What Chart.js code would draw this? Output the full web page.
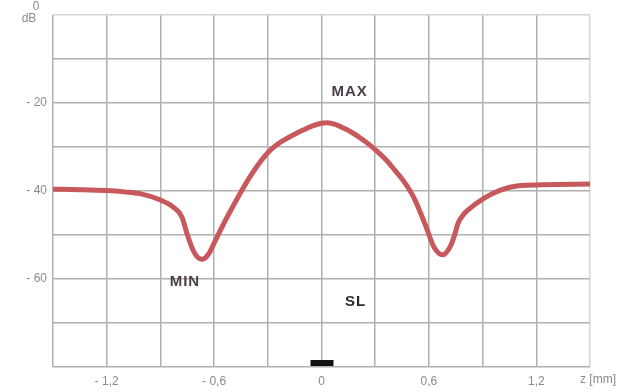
<!DOCTYPE html>
<html>
<head>
<meta charset="utf-8">
<script src="https://cdn.jsdelivr.net/npm/chart.js@4/dist/chart.umd.min.js"></script>
<style>
  html, body { margin: 0; padding: 0; background: #fff; }
  #wrap { width: 636px; height: 392px; }
</style>
</head>
<body>
<div id="wrap"><canvas id="sl-chart"></canvas></div>
<script>
// axial position z [mm] and level [dB]
const zPos = [-1.5, -1.35, -1.2, -1.1, -1.015, -0.903, -0.83, -0.78, -0.752, -0.718, -0.685, -0.665, -0.634, -0.583, -0.527, -0.454,
  -0.4, -0.35, -0.3, -0.25, -0.2, -0.15, -0.1, -0.05, 0, 0.03, 0.08, 0.123, 0.17, 0.219, 0.265, 0.314, 0.36, 0.404, 0.46, 0.516,
  0.583, 0.628, 0.677, 0.723, 0.745, 0.763, 0.79, 0.819, 0.909, 1.0, 1.1, 1.23, 1.5];
const level = [-39.6, -39.7, -39.9, -40.2, -40.6, -42, -43.6, -45.9, -49.6, -53.4, -55.3, -55.5, -54.5, -50.4, -45.9, -40.5,
  -36.8, -33.8, -31.3, -29.5, -28.2, -27.1, -26.1, -25.2, -24.6, -24.5, -24.9, -25.7, -26.7, -28, -29.4, -31.1, -32.9, -35, -37.8, -41.5,
  -48, -52.7, -54.5, -52.3, -49.8, -47.3, -45.5, -44.3, -41.6, -39.8, -38.8, -38.6, -38.4];

const xLabels = { '-1.2': '- 1,2', '-0.6': '- 0,6', '0': '0', '0.6': '0,6', '1.2': '1,2' };
const yLabels = { '-20': '- 20', '-40': '- 40', '-60': '- 60' };

// MAX / MIN / SL notes placed in data units
const notes = [
  { text: 'MAX', x: 0.157, y: -17.5, color: '#4e3e4a' },
  { text: 'MIN', x: -0.763, y: -60.7, color: '#4e3e4a' },
  { text: 'SL', x: 0.19, y: -65.2, color: '#2a2a2a' }
];

const tickFont = { size: 12, family: '"Liberation Sans", Arial, sans-serif' };

const extras = {
  id: 'extras',
  afterDatasetsDraw(chart) {
    const { ctx, scales: { x, y }, chartArea } = chart;
    ctx.save();
    ctx.font = 'bold 15px "Liberation Sans", Arial, sans-serif';
    ctx.letterSpacing = '1px';
    ctx.textAlign = 'center';
    ctx.textBaseline = 'middle';
    notes.forEach(n => {
      ctx.fillStyle = n.color;
      ctx.fillText(n.text, x.getPixelForValue(n.x), y.getPixelForValue(n.y));
    });
    ctx.letterSpacing = '0px';
    // focus marker on the axis at z = 0
    const x0 = x.getPixelForValue(0);
    ctx.fillStyle = '#111';
    ctx.fillRect(x0 - 11, chartArea.bottom - 7, 23, 6);
    // axis captions
    ctx.fillStyle = '#8a8a8a';
    ctx.font = '12px "Liberation Sans", Arial, sans-serif';
    ctx.fillText('0', 36, 7);
    ctx.fillText('dB', 29, 19);
    ctx.textAlign = 'left';
    ctx.fillText('z [mm]', 580, 380);
    ctx.restore();
  }
};

new Chart(document.getElementById('sl-chart'), {
  type: 'line',
  data: {
    datasets: [{
      data: zPos.map((z, i) => ({ x: z, y: level[i] })),
      borderColor: '#c7585c',
      borderWidth: 5,
      pointRadius: 0,
      cubicInterpolationMode: 'monotone',
      fill: false
    }]
  },
  options: {
    responsive: true,
    maintainAspectRatio: false,
    animation: false,
    layout: { padding: { top: 15, right: 46, left: 0, bottom: 0 } },
    plugins: { legend: { display: false }, tooltip: { enabled: false } },
    scales: {
      x: {
        type: 'linear',
        min: -1.5, max: 1.5,
        grid: {
          drawTicks: false,
          lineWidth: 1.5,
          color: c => (c.tick && Math.abs(c.tick.value - 1.5) < 1e-6) ? '#d6d6d6' : '#b0b0b0'
        },
        border: { display: false },
        ticks: {
          stepSize: 0.3,
          autoSkip: false,
          maxRotation: 0,
          padding: 7,
          color: '#8a8a8a',
          font: tickFont,
          callback: v => xLabels[String(Math.round(v * 10) / 10)] || ''
        },
        afterFit: s => { s.height = 25; }
      },
      y: {
        min: -80, max: 0,
        grid: {
          drawTicks: false,
          lineWidth: 1.5,
          color: c => (c.tick && c.tick.value === 0) ? '#d6d6d6' : '#b0b0b0'
        },
        border: { display: false },
        ticks: {
          stepSize: 10,
          autoSkip: false,
          padding: 6,
          color: '#8a8a8a',
          font: tickFont,
          callback: v => yLabels[String(Math.round(v))] || ''
        },
        afterFit: s => { s.width = 53; }
      }
    }
  },
  plugins: [extras]
});
</script>
</body>
</html>
